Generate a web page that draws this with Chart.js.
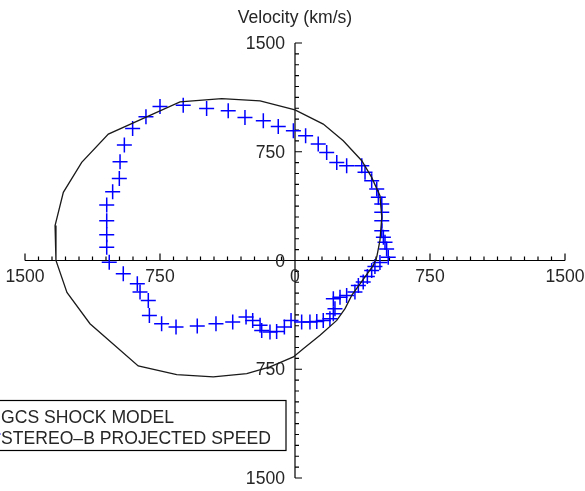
<!DOCTYPE html>
<html>
<head>
<meta charset="utf-8">
<script src="https://cdn.jsdelivr.net/npm/chart.js@4"></script>
<style>
  body { margin: 0; background: #fff; }
  canvas { display: block; }
</style>
</head>
<body>
<canvas id="myChart" width="585" height="491"></canvas>
<script>
// GCS shock model outline (km/s)
const gcsX = [454, 472, 482, 472, 426, 371, 268, 157, 0, -194, -407, -639, -1037, -1185, -1287, -1333, -1328, -1267, -1139, -871, -657, -454, -268, -139, -9, 46, 139, 232, 278, 315, 435, 454];
const gcsY = [23, 138, 298, 447, 573, 688, 826, 941, 1039, 1101, 1117, 1094, 872, 677, 470, 241, 0, -220, -436, -727, -787, -803, -780, -734, -665, -608, -516, -413, -332, -241, -34, 23];

// STEREO-B projected speed (km/s)
const stereoX = [-828, -750, -621, -491, -371, -278, -176, -93, -9, 59, 129, 176, 232, 287, 371, 389, 426, 454, 463, 482, 482, 482, 482, 491, 500, 509, 518,
  472, 444, 426, 402, 379, 352, 333, 287, 250, 213, 222, 213, 194, 157, 121, 83, 37, -22, -59, -102, -139, -185, -194, -235, -272, -346, -439, -543, -661, -741, -809, -815, -861, -876, -954, -1032,
  -1046, -1046, -1046, -1046, -1013, -976, -972, -948, -902];
const stereoY = [991, 1062, 1071, 1048, 1032, 986, 963, 924, 895, 860, 803, 745, 676, 654, 654, 608, 550, 493, 436, 390, 332, 275, 206, 160, 126, 80, 23,
  -14, -41, -69, -110, -149, -172, -218, -241, -253, -264, -332, -367, -401, -413, -420, -424, -424, -413, -459, -489, -493, -482, -447, -413, -390, -424, -436, -452, -459, -436, -379, -275, -218, -160, -92, -12,
  92, 177, 275, 383, 475, 566, 681, 796, 910];

const tickValues = [-1500, -750, 0, 750, 1500];
const tickLabels = ["1500", "750", "0", "750", "1500"];
const minorStep = 75;
const seriesNames = ["GCS SHOCK MODEL", "STEREO\u2013B PROJECTED SPEED"];
const axisTitle = "Velocity (km/s)";

const FONT = '17.6px "Liberation Sans", Arial, Helvetica, sans-serif';
const TEXT = "#262626";

const axesPlugin = {
  id: "centerAxes",
  beforeDatasetsDraw(chart) {
    const ctx = chart.ctx;
    const xs = chart.scales.x, ys = chart.scales.y;
    const x0 = xs.getPixelForValue(0), y0 = ys.getPixelForValue(0);
    ctx.save();
    ctx.strokeStyle = "#000";
    ctx.lineWidth = 1.2;
    ctx.beginPath();
    ctx.moveTo(xs.getPixelForValue(-1500), y0);
    ctx.lineTo(xs.getPixelForValue(1500), y0);
    ctx.moveTo(x0, ys.getPixelForValue(1500));
    ctx.lineTo(x0, ys.getPixelForValue(-1500));
    // tick marks
    for (let v = -1500; v <= 1500; v += minorStep) {
      const len = v % 750 === 0 ? 7 : 4;
      const px = xs.getPixelForValue(v);
      ctx.moveTo(px, y0);
      ctx.lineTo(px, y0 - len);
      const py = ys.getPixelForValue(v);
      ctx.moveTo(x0, py);
      ctx.lineTo(x0 + len, py);
    }
    ctx.stroke();

    ctx.fillStyle = TEXT;
    ctx.font = FONT;
    ctx.textAlign = "center";
    ctx.textBaseline = "top";
    tickValues.forEach((v, i) => {
      ctx.fillText(tickLabels[i], xs.getPixelForValue(v), y0 + 8);
    });
    ctx.textAlign = "right";
    ctx.textBaseline = "middle";
    tickValues.forEach((v, i) => {
      ctx.fillText(tickLabels[i], x0 - 10, ys.getPixelForValue(v) + (v === 0 ? 2 : 1));
    });
    ctx.textAlign = "center";
    ctx.fillText(axisTitle, x0, 18);
    ctx.restore();
  },
  afterDatasetsDraw(chart) {
    const ctx = chart.ctx;
    ctx.save();
    ctx.fillStyle = "#fff";
    ctx.fillRect(-20, 400, 306, 50);
    ctx.strokeStyle = "#000";
    ctx.lineWidth = 1.2;
    ctx.strokeRect(-20, 400.5, 306, 50);
    ctx.fillStyle = TEXT;
    ctx.font = FONT;
    ctx.textAlign = "left";
    ctx.textBaseline = "middle";
    ctx.fillText(seriesNames[0], 1, 418);
    ctx.fillText(seriesNames[1], 1, 439);
    ctx.strokeStyle = "#0000ff";
    ctx.lineWidth = 1.5;
    ctx.beginPath();
    ctx.moveTo(-12, 434);
    ctx.lineTo(0.5, 434);
    ctx.stroke();
    ctx.restore();
  }
};

new Chart(document.getElementById("myChart"), {
  type: "scatter",
  data: {
    datasets: [
      {
        label: seriesNames[0],
        data: gcsX.map((x, i) => ({ x, y: gcsY[i] })),
        showLine: true,
        borderColor: "#1a1a1a",
        borderWidth: 1.3,
        pointRadius: 0,
        fill: false,
        tension: 0
      },
      {
        label: seriesNames[1],
        data: stereoX.map((x, i) => ({ x, y: stereoY[i] })),
        showLine: false,
        pointStyle: "cross",
        pointRadius: 7.5,
        borderColor: "#0000ff",
        backgroundColor: "#0000ff",
        pointBorderWidth: 1.5
      }
    ]
  },
  options: {
    responsive: false,
    animation: false,
    layout: { padding: { left: 25, right: 20, top: 43, bottom: 13 } },
    scales: {
      x: { type: "linear", min: -1500, max: 1500, display: false },
      y: { type: "linear", min: -1500, max: 1500, display: false }
    },
    plugins: {
      legend: { display: false },
      tooltip: { enabled: false }
    }
  },
  plugins: [axesPlugin]
});
</script>
</body>
</html>
